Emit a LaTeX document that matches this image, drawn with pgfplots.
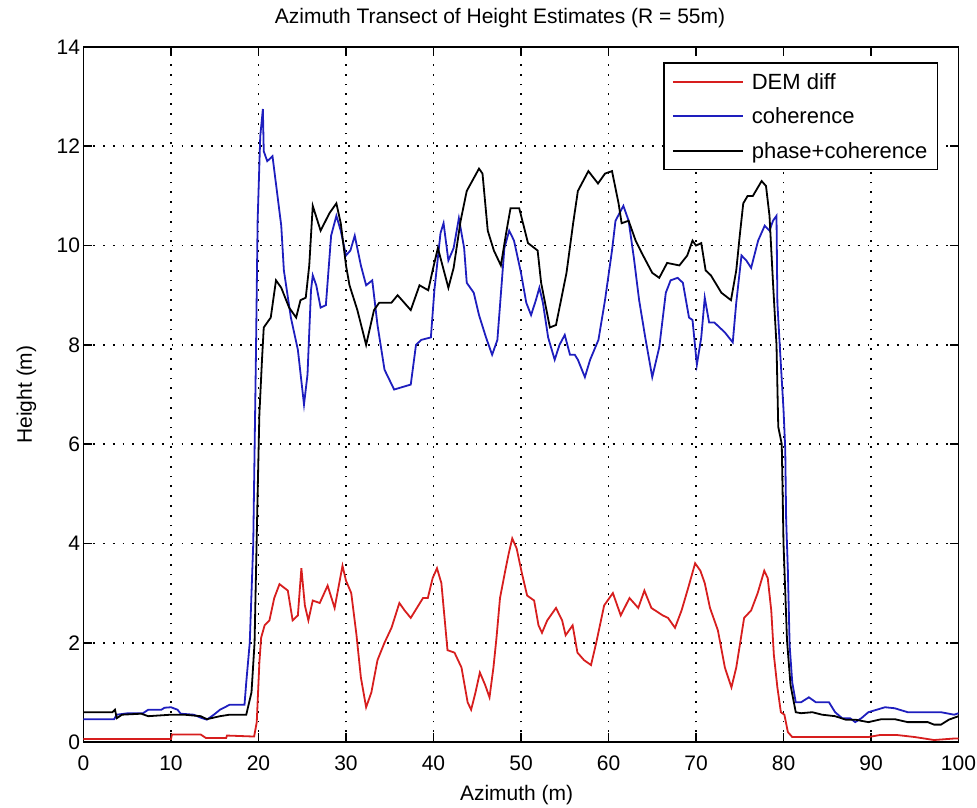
\documentclass[border=0pt]{standalone}
\usepackage{fontspec}
\setmainfont{Liberation Sans}
\usepackage{pgfplots}
\pgfplotsset{compat=1.18}
\definecolor{mred}{RGB}{215,30,30}
\definecolor{mblue}{RGB}{30,30,190}
\begin{document}
\begin{tikzpicture}
\useasboundingbox (-83.5pt,-66pt) rectangle (893.5pt,742pt);
\begin{axis}[
 scale only axis, width=875pt, height=695pt,
 xmin=0, xmax=100, ymin=0, ymax=14,
 xtick={0,10,...,100}, ytick={0,2,...,14},
 tick align=inside, xtick pos=both, ytick pos=both,
 major tick length=9pt,
 grid=major, grid style={black, line width=1.8pt, dash pattern=on 1.8pt off 8pt},
 axis line style={line width=1.6pt},
 every tick/.style={black, line width=1.6pt},
 font=\fontsize{21}{25}\selectfont,
 /pgf/number format/assume math mode=true,
 xticklabel style={anchor=base, yshift=-28pt},
 title={Azimuth Transect of Height Estimates (R = 55m)},
 title style={at={([yshift=17pt]axis description cs:0.476,1)}, anchor=base},
 xlabel={Azimuth (m)},
 xlabel style={at={([yshift=-58pt]axis description cs:0.495,0)}, anchor=base},
 ylabel={Height (m)},
 ylabel style={at={([xshift=-51.5pt]axis description cs:0,0.5)}, anchor=base},
 legend style={at={(0.9766,0.9777)}, anchor=north east, draw=black, line width=1.4pt,
   font=\fontsize{22}{26}\selectfont, inner xsep=8pt, inner ysep=8pt, row sep=13pt,
   cells={anchor=west}},
 legend image code/.code={\draw[#1, line width=1.8pt] (0pt,0pt) -- (70pt,0pt); \path (76pt,0pt);},
]
\addplot[mred, line width=1.8pt] coordinates {
(0,0.06) (10,0.06) (10.1,0.15) (13.4,0.15) (14,0.08) (16.3,0.08) (16.4,0.13) (19.5,0.11) (19.8,0.4) (19.95,1.0) (20.1,1.6) (20.3,2.1) (20.7,2.35) (21.25,2.45) (21.8,2.9) (22.4,3.18) (23.35,3.05) (23.9,2.45) (24.5,2.55) (24.9,3.5) (25.3,2.75) (25.7,2.45) (26.2,2.85) (27,2.8) (27.9,3.15) (28.7,2.7) (29.6,3.55) (30,3.25) (30.6,3.0) (31.2,2.15) (31.7,1.3) (32.3,0.7) (32.9,1.0) (33.6,1.65) (34.4,2.0) (35.2,2.3) (36.1,2.8) (36.7,2.65) (37.4,2.5) (38.8,2.9) (39.35,2.9) (39.9,3.3) (40.4,3.5) (40.9,3.2) (41.6,1.85) (42.4,1.8) (43.2,1.5) (43.9,0.8) (44.3,0.65) (44.8,1.0) (45.3,1.4) (45.9,1.15) (46.4,0.9) (46.85,1.5) (47.2,2.1) (47.6,2.9) (48.2,3.45) (48.6,3.8) (49,4.1) (49.5,3.9) (50.1,3.4) (50.7,2.95) (51.5,2.85) (52,2.35) (52.4,2.2) (53,2.45) (54,2.7) (54.7,2.45) (55.1,2.15) (55.9,2.35) (56.45,1.8) (57.2,1.65) (58,1.55) (58.6,2.0) (59.5,2.75) (60.5,3.0) (61.4,2.55) (62.4,2.9) (63.4,2.7) (64.1,3.05) (64.9,2.7) (66.2,2.55) (66.8,2.5) (67.6,2.3) (68.35,2.65) (69.1,3.1) (69.9,3.6) (70.5,3.45) (71,3.2) (71.6,2.7) (72.5,2.25) (73.3,1.5) (74.05,1.1) (74.6,1.5) (75.5,2.5) (76.3,2.65) (77.05,3.0) (77.8,3.45) (78.2,3.3) (78.6,2.65) (78.9,1.75) (79.3,1.1) (79.7,0.6) (80.1,0.55) (80.5,0.2) (81,0.1) (89.7,0.1) (91,0.14) (93,0.14) (95,0.1) (97.2,0.04) (99.5,0.07) (100,0.07)
};
\addlegendentry{DEM diff}
\addplot[mblue, line width=1.8pt] coordinates {
(0,0.46) (3.5,0.46) (3.8,0.55) (5.1,0.58) (6.8,0.58) (7.4,0.65) (8.9,0.65) (9.25,0.69) (10,0.7) (10.75,0.65) (11.1,0.57) (12.6,0.55) (13.4,0.49) (14.1,0.45) (14.9,0.55) (15.6,0.65) (16.7,0.75) (18.4,0.75) (18.6,1.2) (19.0,2.0) (19.4,4.0) (19.7,7.7) (19.9,10.5) (20.2,12.2) (20.5,12.75) (20.6,11.9) (21.0,11.7) (21.6,11.8) (22.1,11.1) (22.6,10.4) (22.9,9.5) (23.7,8.55) (24.5,7.9) (25.2,6.8) (25.6,7.4) (26.0,9.1) (26.2,9.4) (26.6,9.2) (27.1,8.75) (27.7,8.8) (28.3,10.2) (28.9,10.6) (29.4,10.3) (30,9.8) (30.5,9.9) (31,10.2) (31.7,9.6) (32.3,9.2) (33,9.3) (33.6,8.4) (34.4,7.5) (35.5,7.1) (37.4,7.2) (38,8.0) (38.6,8.1) (39.7,8.15) (40.1,9.1) (40.8,10.25) (41.15,10.45) (41.7,9.7) (42.3,9.95) (42.9,10.55) (43.5,9.95) (43.8,9.25) (44.6,9.05) (45.2,8.6) (46,8.15) (46.7,7.8) (47.3,8.1) (48.1,9.95) (48.65,10.3) (49.2,10.1) (50,9.45) (50.6,8.85) (51.15,8.6) (51.7,8.9) (52.1,9.15) (52.5,8.85) (53.1,8.15) (53.85,7.7) (54.4,8.0) (55,8.2) (55.6,7.8) (56.15,7.8) (56.5,7.7) (57.3,7.35) (57.9,7.7) (58.85,8.1) (59.6,8.9) (60.4,9.9) (60.8,10.5) (61.7,10.8) (62.3,10.5) (62.9,9.75) (63.5,8.9) (64.2,8.15) (65,7.35) (65.8,7.95) (66.55,9.05) (67.1,9.3) (67.9,9.35) (68.5,9.25) (69.2,8.55) (69.6,8.5) (70.1,7.6) (70.6,8.15) (71,8.95) (71.5,8.45) (72.1,8.45) (73.3,8.25) (74.2,8.05) (74.6,8.85) (75.2,9.8) (75.75,9.7) (76.3,9.55) (77.1,10.1) (77.85,10.4) (78.4,10.3) (78.8,10.5) (79.2,10.6) (79.3,8.85) (79.6,7.9) (80,6.7) (80.2,5.9) (80.3,4.5) (80.5,3.45) (80.6,2.7) (80.7,1.95) (81,1.2) (81.4,0.8) (82,0.8) (82.9,0.9) (83.7,0.8) (85.2,0.8) (85.9,0.6) (86.7,0.48) (87.6,0.48) (88.2,0.4) (88.9,0.48) (89.7,0.6) (91.6,0.7) (92.7,0.68) (94.2,0.6) (98,0.6) (99.5,0.55) (100,0.58)
};
\addlegendentry{coherence}
\addplot[black, line width=1.8pt] coordinates {
(0,0.6) (3.3,0.6) (3.6,0.65) (3.8,0.48) (4.4,0.55) (6.6,0.57) (7.4,0.52) (10,0.55) (11.5,0.55) (13.4,0.52) (14.1,0.46) (15.6,0.52) (16.7,0.55) (18.6,0.55) (19.2,1.0) (19.55,2.0) (19.9,5.0) (20.1,6.6) (20.4,7.7) (20.6,8.35) (21.4,8.55) (22,9.3) (22.6,9.15) (23.5,8.75) (24.3,8.55) (24.8,8.9) (25.4,8.95) (25.8,9.6) (26.2,10.8) (27.1,10.3) (28.1,10.65) (28.9,10.85) (29.4,10.45) (30,9.6) (30.4,9.2) (31.3,8.7) (32.3,8.0) (33.2,8.7) (33.8,8.85) (35.2,8.85) (35.9,9.0) (37.4,8.7) (38.4,9.2) (39.4,9.1) (39.9,9.5) (40.5,9.95) (41.7,9.15) (42.3,9.55) (43.1,10.5) (43.8,11.1) (45.2,11.55) (45.6,11.45) (46.2,10.3) (46.9,9.9) (47.7,9.6) (48.3,10.25) (48.8,10.75) (49.8,10.75) (50.8,10.05) (51.9,9.9) (52.3,9.25) (53.3,8.35) (54,8.4) (55.2,9.45) (55.96,10.45) (56.5,11.1) (57.7,11.5) (58.8,11.25) (59.6,11.45) (60.4,11.5) (61.15,10.85) (61.5,10.45) (62.3,10.5) (63.1,10.1) (63.8,9.85) (65,9.45) (65.8,9.35) (66.7,9.65) (68.1,9.6) (69,9.8) (69.6,10.1) (70,10.0) (70.6,10.05) (71.1,9.5) (71.7,9.4) (72.9,9.05) (74,8.9) (74.6,9.5) (75,10.2) (75.4,10.85) (75.9,11.0) (76.5,11.0) (77.5,11.3) (78,11.2) (78.4,10.6) (78.8,9.25) (79.2,8.0) (79.4,6.35) (79.8,6.0) (80.0,4.0) (80.4,2.05) (80.8,1.15) (81.4,0.6) (82,0.58) (83.3,0.6) (84.4,0.55) (85.9,0.52) (87.1,0.45) (88.2,0.45) (89.7,0.4) (91.2,0.46) (92.7,0.46) (94.2,0.4) (96.5,0.4) (97.2,0.35) (98,0.35) (98.9,0.45) (100,0.52)
};
\addlegendentry{phase+coherence}
\end{axis}
\end{tikzpicture}
\end{document}
